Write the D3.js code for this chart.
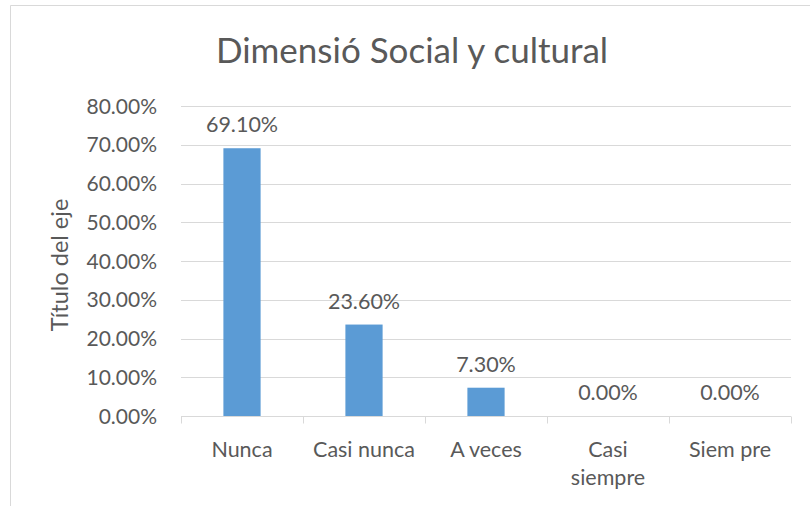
<!DOCTYPE html>
<html>
<head>
<meta charset="utf-8">
<script src="https://cdn.jsdelivr.net/npm/d3@7"></script>
<style>
  body { margin: 0; background: #fff; }
  text { font-family: Lato, "Open Sans", sans-serif; fill: #595959; }
</style>
</head>
<body>
<div id="chart"></div>
<script>
var categories = ["Nunca", "Casi nunca", "A veces", "Casi siempre", "Siem pre"];
var values = [0.691, 0.236, 0.073, 0, 0];
var yTicks = [0, 0.1, 0.2, 0.3, 0.4, 0.5, 0.6, 0.7, 0.8];

var width = 810, height = 506;
var margin = { left: 181, right: 19, top: 106, bottom: 90 };

var svg = d3.select("#chart").append("svg")
  .attr("width", width)
  .attr("height", height);

// chart border
svg.append("path")
  .attr("d", "M10.5,506 V5.5 H810")
  .style("fill", "none")
  .style("stroke", "#d9d9d9");

var x = d3.scaleBand()
  .domain(categories)
  .range([margin.left, width - margin.right])
  .paddingInner(0)
  .paddingOuter(0);

var y = d3.scaleLinear()
  .domain([0, 0.8])
  .range([height - margin.bottom, margin.top]);

var fmt = d3.format(".2%");

// gridlines
svg.selectAll(".grid")
  .data(yTicks.slice(1))
  .enter()
  .append("line")
  .attr("x1", margin.left)
  .attr("x2", width - margin.right)
  .attr("y1", function(d){ return Math.round(y(d)) + 0.5; })
  .attr("y2", function(d){ return Math.round(y(d)) + 0.5; })
  .style("stroke", "#d9d9d9");

// y tick labels
svg.selectAll(".ylab")
  .data(yTicks)
  .enter()
  .append("text")
  .attr("x", 157)
  .attr("y", function(d){ return y(d) + 7.5; })
  .style("text-anchor", "end")
  .style("font-size", "21px")
  .text(function(d){ return fmt(d); });

// bars
var barW = x.bandwidth() * 0.305;
svg.selectAll("rect")
  .data(values)
  .enter()
  .append("rect")
  .attr("x", function(d, i){ return x(categories[i]) + (x.bandwidth() - barW) / 2; })
  .attr("y", function(d){ return y(d); })
  .attr("width", barW)
  .attr("height", function(d){ return y(0) - y(d); })
  .style("fill", "#5b9bd5");

// x axis line and ticks
var y0 = Math.round(y(0)) + 0.5;
svg.append("line")
  .attr("x1", margin.left)
  .attr("x2", width - margin.right)
  .attr("y1", y0)
  .attr("y2", y0)
  .style("stroke", "#d9d9d9");

var bounds = categories.map(function(c){ return x(c); }).concat([width - margin.right]);
svg.selectAll(".xtick")
  .data(bounds)
  .enter()
  .append("line")
  .attr("x1", function(d){ return Math.round(d) + 0.5; })
  .attr("x2", function(d){ return Math.round(d) + 0.5; })
  .attr("y1", y0)
  .attr("y2", y0 + 7)
  .style("stroke", "#d9d9d9");

// value labels
svg.selectAll(".vlab")
  .data(values)
  .enter()
  .append("text")
  .attr("x", function(d, i){ return x(categories[i]) + x.bandwidth() / 2; })
  .attr("y", function(d){ return y(d) - 16; })
  .style("text-anchor", "middle")
  .style("font-size", "21.5px")
  .text(function(d){ return fmt(d); });

// category labels (wrap "Casi siempre")
categories.forEach(function(c){
  var lines = c === "Casi siempre" ? ["Casi", "siempre"] : [c];
  var t = svg.append("text")
    .attr("x", x(c) + x.bandwidth() / 2)
    .attr("y", 457)
    .style("text-anchor", "middle")
    .style("font-size", "21.5px");
  lines.forEach(function(l, j){
    t.append("tspan")
      .attr("x", x(c) + x.bandwidth() / 2)
      .attr("dy", j === 0 ? 0 : 28)
      .text(l);
  });
});

// title
svg.append("text")
  .attr("x", 412)
  .attr("y", 63)
  .style("text-anchor", "middle")
  .style("font-size", "35px")
  .text("Dimensió Social y cultural");

// y axis title
svg.append("text")
  .attr("transform", "translate(68,265) rotate(-90)")
  .style("text-anchor", "middle")
  .style("font-size", "23.5px")
  .text("Título del eje");
</script>
</body>
</html>
